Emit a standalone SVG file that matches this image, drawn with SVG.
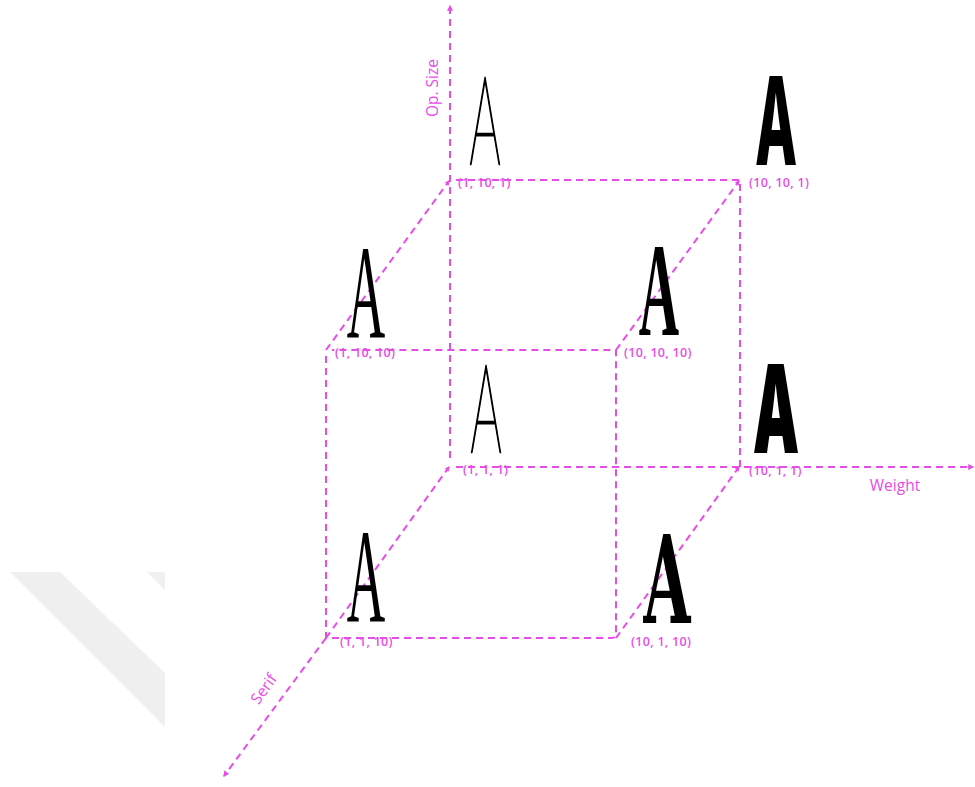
<svg xmlns="http://www.w3.org/2000/svg" width="975" height="787" viewBox="0 0 975 787">
<defs>
<style>
.ln{stroke:#e84ce8;stroke-width:2;fill:none;stroke-dasharray:7 5}
.lb{fill:#e84ce8;font-family:"Open Sans","Noto Sans",sans-serif;font-size:12.5px;font-weight:600;letter-spacing:0.3px}
.ax{fill:#e84ce8;font-family:"Open Sans","Noto Sans",sans-serif;font-size:15.5px}
.g{fill:#000;text-anchor:middle}
.thin{font-family:Lato,Roboto,"Liberation Sans",sans-serif;font-weight:100;font-size:122px;stroke:#000;stroke-width:2;vector-effect:non-scaling-stroke}
.bold{font-family:Inter,"Liberation Sans",sans-serif;font-weight:800;font-size:122px}
.black{font-family:Inter,"Liberation Sans",sans-serif;font-weight:900;font-size:122px}
.ser{font-family:"Liberation Serif",serif;font-size:133px}
.serb{font-family:"Liberation Serif",serif;font-weight:bold;font-size:133px}
.slab{font-family:"DejaVu Serif",serif;font-weight:bold;font-size:121px}
</style>
<marker id="ah" viewBox="0 0 10 10" refX="8" refY="5" markerWidth="6" markerHeight="6" orient="auto" markerUnits="userSpaceOnUse">
<path d="M0,0 L10,5 L0,10 z" fill="#e84ce8"/>
</marker>
<marker id="sm" viewBox="0 0 10 10" refX="8" refY="5" markerWidth="5" markerHeight="5" orient="auto" markerUnits="userSpaceOnUse">
<path d="M0,0 L10,5 L0,10 z" fill="#e84ce8"/>
</marker>
</defs>
<rect width="975" height="787" fill="#fff"/>
<g id="bg-stripe" fill="#f0f0f0">
<polygon points="10,572 60,572 165,673 165,727"/>
<polygon points="147,572 165,572 165,590"/>
</g>
<g id="connectors">
<path class="ln" d="M450,458 V6" marker-end="url(#ah)"/>
<path class="ln" d="M456,467 H973" marker-end="url(#ah)"/>
<path class="ln" d="M326,638 L224,776" marker-end="url(#ah)"/>
<path class="ln" d="M456,180 H740 V472"/>
<path class="ln" d="M326,356 V638 H612 Q616,638 616,634 V350 H332"/>
<path class="ln" d="M326,350 L449,181" marker-end="url(#sm)"/>
<path class="ln" d="M616,350 L739,181" marker-end="url(#sm)"/>
<path class="ln" d="M326,638 L449,467" marker-end="url(#sm)"/>
<path class="ln" d="M616,638 L739,467" marker-end="url(#sm)"/>
</g>
<g id="axis-labels">
<text class="ax" transform="translate(438,88) rotate(-90)" text-anchor="middle">Op. Size</text>
<text class="ax" x="895" y="491" text-anchor="middle">Weight</text>
<text class="ax" transform="translate(268,692) rotate(-54)" text-anchor="middle">Serif</text>
</g>
<g id="n-1-10-1">
<text class="g thin" transform="translate(485,164) scale(0.4,1)">A</text>
<text class="lb" x="458" y="187">(1, 10, 1)</text>
</g>
<g id="n-10-10-1">
<text class="g bold" transform="translate(776,165) scale(0.45,1)">A</text>
<text class="lb" x="749" y="187">(10, 10, 1)</text>
</g>
<g id="n-1-10-10">
<text class="g ser" transform="translate(366,337) scale(0.4,1)">A</text>
<text class="lb" x="335" y="357">(1, 10, 10)</text>
</g>
<g id="n-10-10-10">
<text class="g serb" transform="translate(659,335) scale(0.42,1)">A</text>
<text class="lb" x="624" y="357">(10, 10, 10)</text>
</g>
<g id="n-1-1-1">
<text class="g thin" transform="translate(486,452) scale(0.4,1)">A</text>
<text class="lb" x="463" y="474">(1, 1, 1)</text>
</g>
<g id="n-10-1-1">
<text class="g black" transform="translate(776,453) scale(0.48,1)">A</text>
<text class="lb" x="749" y="475">(10, 1, 1)</text>
</g>
<g id="n-1-1-10">
<text class="g ser" transform="translate(366,621) scale(0.4,1)">A</text>
<text class="lb" x="340" y="646">(1, 1, 10)</text>
</g>
<g id="n-10-1-10">
<text class="g slab" transform="translate(667,623) scale(0.5,1)">A</text>
<text class="lb" x="631" y="646">(10, 1, 10)</text>
</g>
</svg>
